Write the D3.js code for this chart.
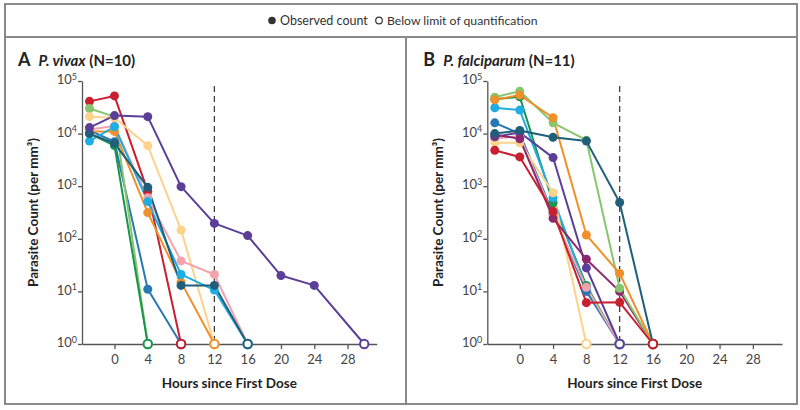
<!DOCTYPE html>
<html><head><meta charset="utf-8">
<script src="https://cdn.jsdelivr.net/npm/d3@7"></script>
<style>body{margin:0;background:#fff;}svg{display:block;font-family:Lato,"Open Sans",sans-serif;}</style>
</head><body>
<svg id="chart" width="800" height="410"></svg>
<script>
// ---- data ----
const hourTicks = [0, 4, 8, 12, 16, 20, 24, 28];
const countTicks = [1, 10, 100, 1000, 10000, 100000];
const legendLabels = ["Observed count", "Below limit of quantification"];
const panelTitles = [["A", "P. vivax", " (N=10)"], ["B", "P. falciparum", " (N=11)"]];
const xTitle = "Hours since First Dose";
const yTitle = "Parasite Count (per mm³)";
const cutoffHour = 12;

// each series: observed [hour, count] pairs, then hour at which count fell below limit
const vivaxObserved = [
  [[-3, 11500], [0, 7000], [4, 11]],
  [[-3, 41000], [0, 52000], [4, 800]],
  [[-3, 30000], [0, 21000]],
  [[-3, 21000], [0, 20000], [4, 5900], [8, 147]],
  [[-3, 11000], [0, 11000], [4, 315], [8, 15]],
  [[-3, 12000], [0, 14000], [4, 600], [8, 38], [12, 21]],
  [[-3, 7200], [0, 13500], [4, 510], [8, 21], [12, 10.6]],
  [[-3, 10000], [0, 5900]],
  [[-3, 10000], [0, 6500], [4, 950], [8, 13], [12, 13]],
  [[-3, 13000], [0, 22000], [4, 21000], [8, 980], [12, 196], [16, 115], [20, 20], [24, 13]]
];
const vivaxBlqHour = [8, 8, 4, 12, 12, 16, 16, 4, 16, 30];

const falciparumObserved = [
  [[-3, 45000], [0, 50000], [4, 480], [8, 13]],
  [[-3, 31000], [0, 28000], [4, 600], [8, 11]],
  [[-3, 16000], [0, 10000], [4, 300], [8, 10]],
  [[-3, 8000], [0, 9000], [4, 280], [8, 12]],
  [[-3, 6700], [0, 6700], [4, 750]],
  [[-3, 8700], [0, 10500], [4, 3500], [8, 28]],
  [[-3, 9500], [0, 8000], [4, 245], [8, 41], [12, 10]],
  [[-3, 49000], [0, 64000], [4, 16000], [8, 7500], [12, 11.5]],
  [[-3, 44000], [0, 54000], [4, 20000], [8, 118], [12, 22]],
  [[-3, 10000], [0, 11500], [4, 8500], [8, 7200], [12, 490]],
  [[-3, 4800], [0, 3600], [4, 330], [8, 6.1], [12, 6.2]]
];
const falciparumBlqHour = [12, 12, 12, 12, 8, 12, 16, 16, 16, 16, 16];
const blqValue = 1;

// ---- styles ----
const vivaxColors = ["#2878b4", "#c8202f", "#86c66c", "#fdd28a", "#f0902a", "#f4a3ad", "#1eaee3", "#1a9450", "#1f5f7a", "#5a3e98"];
const falciparumColors = ["#1a9450", "#1eaee3", "#2878b4", "#f4a3ad", "#fdd28a", "#5a3e98", "#8a2a6d", "#86c66c", "#f0902a", "#1f5f7a", "#c8202f"];

const svg = d3.select("#chart");
const frame = "#8a8a8a";
const axisCol = "#555";
const textCol = "#333";

// frame
svg.append("rect").attr("x", 5).attr("y", 4).attr("width", 792).attr("height", 400)
  .attr("fill", "none").attr("stroke", frame).attr("stroke-width", 2);
svg.append("line").attr("x1", 5).attr("x2", 797).attr("y1", 37).attr("y2", 37)
  .attr("stroke", frame).attr("stroke-width", 2);
svg.append("line").attr("x1", 406).attr("x2", 406).attr("y1", 37).attr("y2", 404)
  .attr("stroke", frame).attr("stroke-width", 2);

// legend
const lg = svg.append("g");
lg.append("circle").attr("cx", 272).attr("cy", 20.5).attr("r", 3.8).attr("fill", textCol);
lg.append("text").attr("x", 280).attr("y", 25).attr("font-size", 12.5).attr("fill", textCol).text(legendLabels[0]);
lg.append("circle").attr("cx", 379).attr("cy", 20.5).attr("r", 3.3).attr("fill", "#fff").attr("stroke", textCol).attr("stroke-width", 1.2);
lg.append("text").attr("x", 387).attr("y", 25).attr("font-size", 12.2).attr("fill", textCol).text(legendLabels[1]);

function panel(offsetX, titleParts, observed, blqHours, colors) {
  const g = svg.append("g").attr("transform", `translate(${offsetX},0)`);
  const x = d3.scaleLinear().domain([-3.9, 31.5]).range([82, 376.7]);
  const y = d3.scaleLog().domain([1, 100000]).range([344, 81]);

  // title
  const t = g.append("text").attr("x", 18).attr("y", 66).attr("fill", "#222");
  t.append("tspan").attr("font-weight", 700).attr("font-size", 18).text(titleParts[0]);
  t.append("tspan").attr("dx", 8).attr("font-weight", 700).attr("font-style", "italic").attr("font-size", 15).text(titleParts[1]);
  t.append("tspan").attr("font-weight", 700).attr("font-size", 15).text(titleParts[2]);

  // y axis
  const ya = g.append("g").attr("transform", "translate(82,0)")
    .call(d3.axisLeft(y).tickValues(countTicks).tickSize(4).tickSizeOuter(0));
  ya.select(".domain").attr("stroke", axisCol).attr("stroke-width", 1.3);
  ya.selectAll(".tick line").attr("stroke", axisCol).attr("stroke-width", 1.3);
  ya.selectAll(".tick text").each(function (d) {
    const s = d3.select(this);
    s.text("").attr("font-size", 13).attr("fill", "#444").attr("font-family", "Lato, sans-serif").attr("x", -5).attr("dy", "0.2em");
    s.append("tspan").text("10");
    s.append("tspan").attr("dy", "-0.5em").attr("font-size", 9).text(Math.round(Math.log10(d)));
  });

  // x axis
  const xa = g.append("g").attr("transform", "translate(0,344)")
    .call(d3.axisBottom(x).tickValues(hourTicks).tickSize(5).tickSizeOuter(0));
  xa.select(".domain").attr("stroke", axisCol).attr("stroke-width", 1.3);
  xa.selectAll(".tick line").attr("stroke", axisCol).attr("stroke-width", 1.3);
  xa.selectAll(".tick text").attr("font-size", 13).attr("fill", "#444").attr("font-family", "Lato, sans-serif").attr("dy", "0.9em");

  // axis titles
  g.append("text").attr("x", (82 + 376.7) / 2).attr("y", 388).attr("text-anchor", "middle")
    .attr("font-size", 13.5).attr("font-weight", 700).attr("fill", "#222").text(xTitle);
  g.append("text").attr("transform", `translate(38,${(81 + 344) / 2}) rotate(-90)`).attr("text-anchor", "middle")
    .attr("font-size", 13.5).attr("font-weight", 700).attr("fill", "#222").text(yTitle);

  // dashed line
  g.append("line").attr("x1", x(cutoffHour)).attr("x2", x(cutoffHour)).attr("y1", 86).attr("y2", 344)
    .attr("stroke", "#333").attr("stroke-width", 1.2).attr("stroke-dasharray", "6,4");

  const line = d3.line().x(d => x(d[0])).y(d => y(d[1]));
  observed.forEach((pts, i) => {
    const all = pts.concat([[blqHours[i], blqValue]]);
    g.append("path").datum(all).attr("d", line).attr("fill", "none")
      .attr("stroke", colors[i]).attr("stroke-width", 2).attr("stroke-linejoin", "round");
  });
  observed.forEach((pts, i) => {
    g.selectAll(null).data(pts).enter().append("circle")
      .attr("cx", d => x(d[0])).attr("cy", d => y(d[1])).attr("r", 4.5).attr("fill", colors[i]);
    g.append("circle").attr("cx", x(blqHours[i])).attr("cy", y(blqValue)).attr("r", 4.2)
      .attr("fill", "#fff").attr("stroke", colors[i]).attr("stroke-width", 2);
  });
}

panel(0, panelTitles[0], vivaxObserved, vivaxBlqHour, vivaxColors);
panel(405.3, panelTitles[1], falciparumObserved, falciparumBlqHour, falciparumColors);
</script>
</body></html>
